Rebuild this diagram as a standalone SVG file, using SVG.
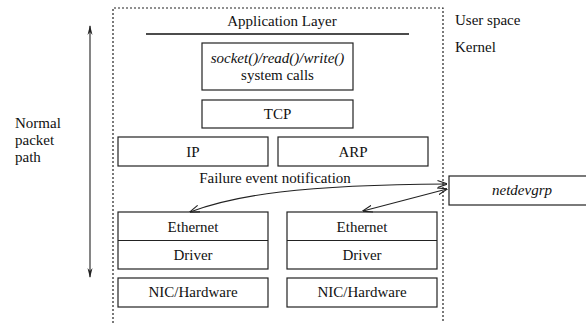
<svg xmlns="http://www.w3.org/2000/svg" width="586" height="323" viewBox="0 0 586 323">
<style>
text{font-family:"Liberation Serif","Times New Roman",serif;font-size:15px;fill:#111}
.c{text-anchor:middle}
.i{font-style:italic}
.box{fill:#fff;stroke:#222;stroke-width:1.2}
.dash{fill:none;stroke:#222;stroke-width:1.2;stroke-dasharray:2 2}
.conn{fill:none;stroke:#222;stroke-width:1.1}
</style>
<defs>
<marker id="open" viewBox="0 0 10 8" refX="9.5" refY="4" markerWidth="10" markerHeight="8" markerUnits="userSpaceOnUse" orient="auto-start-reverse">
<path d="M0,0.5 L10,4 L0,7.5" fill="none" stroke="#222" stroke-width="1.1"/>
</marker>
<marker id="solid" viewBox="0 0 6 12" refX="3" refY="1" markerWidth="6" markerHeight="12" markerUnits="userSpaceOnUse" orient="0">
<path d="M3,0 L5.5,10 L3,7 L0.5,10 Z" fill="#222"/>
</marker>
<marker id="solidDown" viewBox="0 0 6 12" refX="3" refY="11" markerWidth="6" markerHeight="12" markerUnits="userSpaceOnUse" orient="0">
<path d="M3,12 L5.5,2 L3,5 L0.5,2 Z" fill="#222"/>
</marker>
</defs>

<g id="kernel-boundary">
<path class="dash" d="M113,323 L113,8 L443,8 L443,323"/>
</g>

<g id="application-layer">
<text class="c" x="282" y="26">Application Layer</text>
<line x1="146" y1="34" x2="409" y2="34" stroke="#111" stroke-width="1.5"/>
</g>

<g id="labels">
<text x="455" y="25">User space</text>
<text x="455" y="52">Kernel</text>
<text x="15" y="128">Normal</text>
<text x="15" y="145">packet</text>
<text x="15" y="162">path</text>
</g>

<g id="syscalls">
<rect class="box" x="202" y="43" width="151" height="47"/>
<text class="c i" x="277.5" y="63">socket()/read()/write()</text>
<text class="c" x="277.5" y="80">system calls</text>
</g>

<g id="tcp">
<rect class="box" x="202" y="100" width="151" height="28"/>
<text class="c" x="277.5" y="119">TCP</text>
</g>

<g id="ip">
<rect class="box" x="118" y="137" width="150" height="29"/>
<text class="c" x="193" y="157">IP</text>
</g>

<g id="arp">
<rect class="box" x="278" y="137" width="150" height="29"/>
<text class="c" x="353" y="157">ARP</text>
</g>

<g id="failure-label">
<text class="c" x="275" y="183">Failure event notification</text>
</g>

<g id="driver-left">
<rect class="box" x="118" y="212" width="150" height="57"/>
<line x1="118" y1="240.5" x2="268" y2="240.5" stroke="#222" stroke-width="1.2"/>
<text class="c" x="193" y="232">Ethernet</text>
<text class="c" x="193" y="260">Driver</text>
</g>

<g id="driver-right">
<rect class="box" x="287" y="212" width="150" height="57"/>
<line x1="287" y1="240.5" x2="437" y2="240.5" stroke="#222" stroke-width="1.2"/>
<text class="c" x="362" y="232">Ethernet</text>
<text class="c" x="362" y="260">Driver</text>
</g>

<g id="nic-left">
<rect class="box" x="118" y="278" width="150" height="29"/>
<text class="c" x="193" y="297">NIC/Hardware</text>
</g>

<g id="nic-right">
<rect class="box" x="287" y="278" width="150" height="29"/>
<text class="c" x="362" y="297">NIC/Hardware</text>
</g>

<g id="netdevgrp">
<rect class="box" x="449" y="176" width="160" height="29"/>
<text class="c i" x="522" y="195">netdevgrp</text>
</g>

<g id="connectors">
<line class="conn" x1="90" y1="26" x2="90" y2="277" marker-start="url(#solid)" marker-end="url(#solidDown)"/>
<path class="conn" d="M190,212 C235,195 300,185 447,184" marker-start="url(#open)" marker-end="url(#open)"/>
<line class="conn" x1="363" y1="211" x2="447" y2="189" marker-start="url(#open)" marker-end="url(#open)"/>
</g>
</svg>
